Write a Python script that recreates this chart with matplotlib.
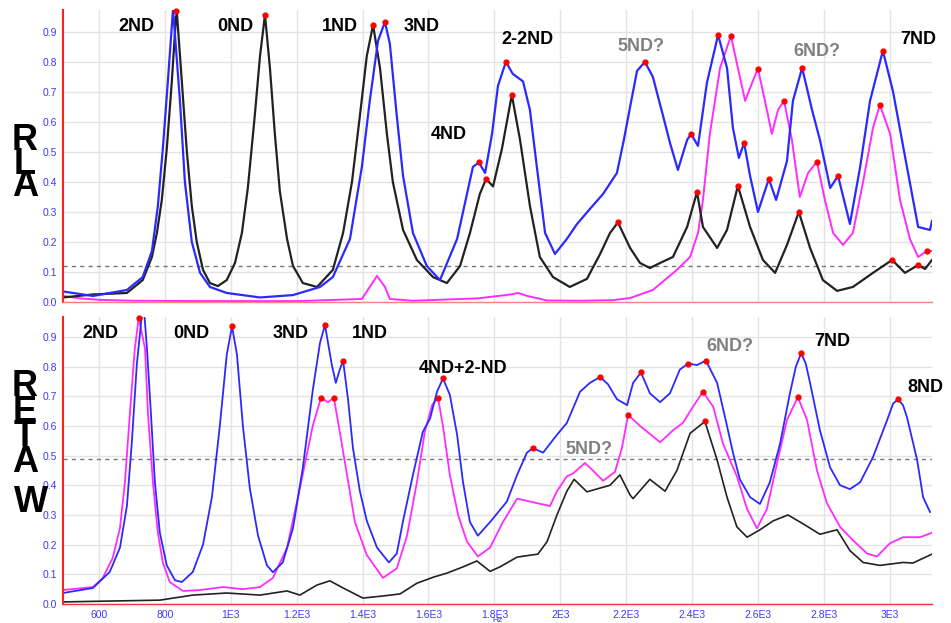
import matplotlib
matplotlib.use("Agg")
from matplotlib import pyplot as plt

# ---- top panel (RLA) ----
top_black_f = [491, 582, 685, 733, 761, 776, 791, 806, 821, 834, 837, 852, 867, 882, 897, 916, 937, 961,
               988, 1013, 1034, 1052, 1073, 1089, 1104, 1119, 1134, 1149, 1171, 1189, 1219, 1262, 1310,
               1341, 1368, 1392, 1413, 1432, 1453, 1474, 1492, 1523, 1565, 1614, 1656, 1696, 1726, 1756,
               1775, 1796, 1823, 1853, 1878, 1908, 1938, 1978, 2029, 2081, 2121, 2151, 2175, 2212, 2242,
               2272, 2303, 2342, 2385, 2415, 2433, 2476, 2506, 2539, 2576, 2615, 2652, 2688, 2724, 2758,
               2797, 2840, 2888, 2949, 3007, 3046, 3086, 3107, 3128]
top_black_v = [0.015, 0.025, 0.03, 0.073, 0.15, 0.23, 0.34, 0.51, 0.73, 0.95, 0.96, 0.73, 0.50, 0.32, 0.20,
               0.107, 0.063, 0.053, 0.073, 0.13, 0.23, 0.38, 0.62, 0.82, 0.957, 0.78, 0.56, 0.37, 0.21,
               0.12, 0.063, 0.05, 0.107, 0.23, 0.40, 0.62, 0.82, 0.923, 0.78, 0.56, 0.40, 0.24, 0.14,
               0.083, 0.063, 0.12, 0.23, 0.36, 0.41, 0.385, 0.51, 0.69, 0.54, 0.32, 0.15, 0.083, 0.05,
               0.077, 0.16, 0.23, 0.265, 0.18, 0.13, 0.113, 0.13, 0.15, 0.25, 0.366, 0.25, 0.18, 0.24,
               0.387, 0.25, 0.14, 0.097, 0.19, 0.30, 0.18, 0.073, 0.037, 0.05, 0.097, 0.14, 0.097, 0.123,
               0.11, 0.14]

top_blue_f = [491, 582, 685, 733, 761, 779, 794, 809, 825, 846, 861, 882, 907, 937, 988, 1089, 1189, 1271,
              1310, 1362, 1398, 1422, 1447, 1468, 1483, 1504, 1523, 1553, 1595, 1635, 1687, 1717, 1735,
              1753, 1772, 1793, 1811, 1835, 1856, 1887, 1908, 1929, 1954, 1984, 2020, 2051, 2090, 2130,
              2172, 2193, 2212, 2233, 2257, 2281, 2312, 2333, 2357, 2385, 2397, 2418, 2445, 2479, 2506,
              2524, 2542, 2558, 2576, 2600, 2633, 2655, 2688, 2706, 2734, 2764, 2788, 2819, 2843, 2879,
              2910, 2940, 2979, 3010, 3052, 3086, 3122, 3128]
top_blue_v = [0.035, 0.02, 0.04, 0.083, 0.17, 0.32, 0.51, 0.73, 0.975, 0.67, 0.40, 0.20, 0.097, 0.05,
              0.03, 0.015, 0.023, 0.05, 0.083, 0.21, 0.45, 0.67, 0.87, 0.933, 0.86, 0.62, 0.42, 0.23,
              0.12, 0.073, 0.21, 0.36, 0.45, 0.465, 0.43, 0.56, 0.72, 0.80, 0.76, 0.735, 0.64, 0.45, 0.23,
              0.16, 0.21, 0.26, 0.31, 0.36, 0.43, 0.54, 0.65, 0.77, 0.80, 0.75, 0.62, 0.53, 0.44, 0.54,
              0.56, 0.52, 0.73, 0.89, 0.78, 0.58, 0.48, 0.53, 0.42, 0.30, 0.41, 0.34, 0.47, 0.67, 0.78,
              0.64, 0.54, 0.38, 0.42, 0.26, 0.45, 0.67, 0.837, 0.70, 0.45, 0.25, 0.24, 0.27]

top_pink_f = [491, 542, 603, 703, 907, 1210, 1398, 1422, 1444, 1468, 1483, 1553, 1750, 1850, 1872, 1900,
              1960, 2060, 2160, 2212, 2281, 2354, 2394, 2418, 2433, 2454, 2485, 2518, 2539, 2561, 2582,
              2600, 2627, 2642, 2661, 2679, 2703, 2727, 2752, 2779, 2803, 2828, 2858, 2888, 2919, 2949,
              2970, 3001, 3031, 3061, 3086, 3113, 3128]
top_pink_v = [0.02, 0.012, 0.007, 0.004, 0.003, 0.003, 0.01, 0.05, 0.087, 0.05, 0.01, 0.004, 0.012,
              0.025, 0.03, 0.02, 0.005, 0.004, 0.006, 0.013, 0.04, 0.107, 0.15, 0.23, 0.34, 0.56, 0.78,
              0.887, 0.78, 0.67, 0.73, 0.777, 0.64, 0.56, 0.64, 0.67, 0.54, 0.35, 0.43, 0.467, 0.34, 0.23,
              0.19, 0.23, 0.40, 0.58, 0.657, 0.56, 0.34, 0.21, 0.15, 0.17, 0.17]

top_blue_pk_f = [834, 1468, 1753, 1835, 2257, 2397, 2479, 2558, 2633, 2734, 2843, 2979]
top_blue_pk_v = [0.97, 0.933, 0.465, 0.80, 0.80, 0.56, 0.89, 0.53, 0.41, 0.78, 0.42, 0.837]
top_black_pk_f = [1104, 1432, 1775, 1853, 2175, 2415, 2539, 2724, 3007, 3086]
top_black_pk_v = [0.957, 0.923, 0.41, 0.69, 0.265, 0.366, 0.387, 0.30, 0.14, 0.123]
top_pink_pk_f = [2518, 2600, 2679, 2779, 2970, 3113]
top_pink_pk_v = [0.887, 0.777, 0.67, 0.467, 0.657, 0.17]

top_labels = ["2ND", "0ND", "1ND", "3ND", "2-2ND", "4ND", "5ND?", "6ND?", "7ND"]
top_label_f = [715, 1013, 1331, 1580, 1899, 1662, 2245, 2779, 3086]
top_label_v = [0.917, 0.917, 0.917, 0.917, 0.873, 0.557, 0.85, 0.833, 0.873]
top_label_c = ["k", "k", "k", "k", "k", "k", "gray", "gray", "k"]

# ---- bottom panel (RETAW) ----
bot_blue_f = [491, 582, 633, 664, 685, 700, 715, 730, 737, 746, 758, 770, 785, 806, 831, 852, 885, 916,
              943, 967, 988, 1004, 1019, 1037, 1058, 1083, 1110, 1128, 1158, 1189, 1219, 1249, 1271, 1286,
              1307, 1319, 1331, 1341, 1356, 1371, 1392, 1413, 1444, 1480, 1504, 1523, 1553, 1583, 1605,
              1626, 1644, 1665, 1687, 1705, 1726, 1750, 1787, 1838, 1869, 1899, 1917, 1948, 1990, 2020,
              2060, 2090, 2121, 2145, 2172, 2203, 2221, 2245, 2272, 2303, 2333, 2363, 2388, 2415, 2442,
              2476, 2506, 2524, 2545, 2576, 2606, 2636, 2667, 2697, 2715, 2731, 2745, 2758, 2788, 2819,
              2849, 2879, 2910, 2949, 2992, 3010, 3025, 3040, 3052, 3083, 3101, 3122]
bot_blue_v = [0.037, 0.054, 0.108, 0.19, 0.33, 0.545, 0.805, 0.97, 0.99, 0.86, 0.64, 0.41, 0.24, 0.13,
              0.08, 0.074, 0.108, 0.20, 0.36, 0.60, 0.84, 0.935, 0.84, 0.60, 0.39, 0.23, 0.13, 0.107,
              0.14, 0.255, 0.46, 0.72, 0.88, 0.94, 0.805, 0.745, 0.79, 0.82, 0.69, 0.525, 0.38, 0.28,
              0.19, 0.14, 0.17, 0.28, 0.435, 0.58, 0.625, 0.715, 0.76, 0.705, 0.57, 0.41, 0.276, 0.23,
              0.276, 0.345, 0.435, 0.51, 0.525, 0.51, 0.57, 0.61, 0.715, 0.745, 0.765, 0.74, 0.69, 0.67,
              0.745, 0.78, 0.71, 0.68, 0.71, 0.79, 0.81, 0.805, 0.82, 0.745, 0.60, 0.51, 0.42, 0.36,
              0.337, 0.41, 0.54, 0.71, 0.80, 0.845, 0.81, 0.745, 0.585, 0.46, 0.40, 0.387, 0.41, 0.495,
              0.62, 0.675, 0.69, 0.67, 0.63, 0.485, 0.36, 0.31]

bot_pink_f = [491, 582, 612, 642, 664, 679, 694, 709, 721, 740, 749, 764, 779, 794, 815, 855, 907, 976,
              1037, 1089, 1128, 1171, 1210, 1249, 1274, 1295, 1313, 1331, 1353, 1377, 1413, 1462, 1504,
              1535, 1565, 1589, 1611, 1629, 1644, 1665, 1690, 1717, 1750, 1787, 1826, 1869, 1969, 1990,
              2020, 2039, 2075, 2099, 2130, 2166, 2187, 2206, 2242, 2303, 2342, 2372, 2403, 2433, 2464,
              2494, 2536, 2567, 2597, 2627, 2658, 2688, 2721, 2749, 2779, 2809, 2849, 2888, 2931, 2961,
              3001, 3040, 3092, 3128]
bot_pink_v = [0.047, 0.057, 0.088, 0.155, 0.256, 0.41, 0.64, 0.86, 0.965, 0.86, 0.64, 0.41, 0.24, 0.14,
              0.074, 0.044, 0.047, 0.057, 0.05, 0.057, 0.088, 0.19, 0.39, 0.60, 0.695, 0.68, 0.695, 0.58,
              0.435, 0.276, 0.165, 0.088, 0.12, 0.23, 0.41, 0.58, 0.67, 0.695, 0.60, 0.435, 0.30, 0.21,
              0.16, 0.19, 0.276, 0.355, 0.33, 0.38, 0.43, 0.44, 0.475, 0.45, 0.415, 0.445, 0.525, 0.637,
              0.60, 0.545, 0.585, 0.61, 0.665, 0.715, 0.665, 0.54, 0.43, 0.32, 0.255, 0.32, 0.475, 0.62,
              0.697, 0.62, 0.45, 0.34, 0.26, 0.215, 0.17, 0.16, 0.205, 0.225, 0.225, 0.24]

bot_black_f = [491, 785, 885, 988, 1089, 1171, 1210, 1262, 1301, 1341, 1401, 1462, 1514, 1565, 1614, 1656,
               1705, 1747, 1787, 1817, 1869, 1932, 1960, 1990, 2020, 2042, 2081, 2151, 2181, 2212, 2221,
               2272, 2318, 2354, 2394, 2439, 2476, 2506, 2536, 2567, 2606, 2646, 2691, 2737, 2788, 2840,
               2879, 2919, 2970, 3040, 3070, 3128]
bot_black_v = [0.007, 0.013, 0.03, 0.037, 0.03, 0.044, 0.03, 0.064, 0.078, 0.054, 0.02, 0.027, 0.034,
               0.07, 0.09, 0.104, 0.125, 0.145, 0.11, 0.125, 0.158, 0.168, 0.21, 0.30, 0.38, 0.42, 0.378,
               0.40, 0.435, 0.367, 0.355, 0.42, 0.38, 0.45, 0.575, 0.615, 0.485, 0.36, 0.26, 0.225, 0.25,
               0.28, 0.30, 0.27, 0.235, 0.25, 0.18, 0.14, 0.13, 0.14, 0.138, 0.168]

bot_blue_pk_f = [1004, 1286, 1341, 1644, 1917, 2121, 2245, 2388, 2442, 2731, 3025]
bot_blue_pk_v = [0.935, 0.94, 0.82, 0.76, 0.525, 0.765, 0.78, 0.81, 0.82, 0.845, 0.69]
bot_pink_pk_f = [721, 1274, 1313, 1629, 2206, 2433, 2721]
bot_pink_pk_v = [0.962, 0.695, 0.695, 0.695, 0.637, 0.715, 0.697]
bot_black_pk_f = [2439]
bot_black_pk_v = [0.615]

bot_labels = ["2ND", "0ND", "3ND", "1ND", "4ND+2-ND", "5ND?", "6ND?", "7ND", "8ND"]
bot_label_f = [606, 879, 1183, 1422, 1705, 2087, 2515, 2825, 3107]
bot_label_v = [0.913, 0.913, 0.913, 0.913, 0.795, 0.519, 0.866, 0.883, 0.731]
bot_label_c = ["k", "k", "k", "k", "k", "gray", "gray", "k", "k"]

x_ticks = [600, 800, 1000, 1200, 1400, 1600, 1800, 2000, 2200, 2400, 2600, 2800, 3000]
x_tick_labels = ["600", "800", "1E3", "1.2E3", "1.4E3", "1.6E3", "1.8E3", "2E3", "2.2E3",
                 "2.4E3", "2.6E3", "2.8E3", "3E3"]
y_ticks = [0.0, 0.1, 0.2, 0.3, 0.4, 0.5, 0.6, 0.7, 0.8, 0.9]

BLUE = "#2a2aff"
PINK = "#ff2cff"
BLACK = "#222222"
TICK_BLUE = "#3a3aff"

plt.rcParams["font.family"] = ["Liberation Sans", "DejaVu Sans"]

fig = plt.figure(figsize=(9.51, 6.23), dpi=100)
ax_top = fig.add_axes([0.0662, 0.5153, 0.9138, 0.4687])
ax_bot = fig.add_axes([0.0662, 0.0305, 0.9138, 0.4607])


def style(ax, ytop, show_x):
    ax.set_xlim(491, 3128)
    ax.set_ylim(0, ytop)
    ax.set_xticks(x_ticks)
    ax.set_yticks(y_ticks)
    ax.set_yticklabels(["%.1f" % v for v in y_ticks])
    if show_x:
        ax.set_xticklabels(x_tick_labels)
    else:
        ax.set_xticklabels([])
    ax.tick_params(length=0, labelsize=7.5, labelcolor=TICK_BLUE, pad=4)
    ax.grid(True, color="#e3e3e3", linewidth=1)
    ax.set_axisbelow(True)
    for s in ["top", "right"]:
        ax.spines[s].set_visible(False)
    ax.spines["left"].set_color("#ff2020")
    ax.spines["left"].set_linewidth(1.5)
    ax.spines["bottom"].set_color("#ff8080")
    ax.spines["bottom"].set_linewidth(1)


style(ax_top, 0.973, False)
style(ax_bot, 0.967, True)
ax_bot.spines["bottom"].set_color("#ff3030")
ax_bot.set_xlabel("Hz", fontsize=6, color=TICK_BLUE, labelpad=-2)

# top curves
ax_top.axhline(0.12, color="#777777", linestyle="--", linewidth=1, dashes=(3, 3))
ax_top.plot(top_pink_f, top_pink_v, color=PINK, linewidth=1.4)
ax_top.plot(top_black_f, top_black_v, color=BLACK, linewidth=1.6)
ax_top.plot(top_blue_f, top_blue_v, color=BLUE, linewidth=1.6)
for f, v in [(top_blue_pk_f, top_blue_pk_v), (top_black_pk_f, top_black_pk_v), (top_pink_pk_f, top_pink_pk_v)]:
    ax_top.plot(f, v, "o", color="red", markersize=3.5, zorder=5, clip_on=False)

# bottom curves
ax_bot.axhline(0.487, color="#777777", linestyle="--", linewidth=1, dashes=(3, 3))
ax_bot.plot(bot_black_f, bot_black_v, color=BLACK, linewidth=1.2)
ax_bot.plot(bot_pink_f, bot_pink_v, color=PINK, linewidth=1.3)
ax_bot.plot(bot_blue_f, bot_blue_v, color=BLUE, linewidth=1.3)
for f, v in [(bot_blue_pk_f, bot_blue_pk_v), (bot_pink_pk_f, bot_pink_pk_v), (bot_black_pk_f, bot_black_pk_v)]:
    ax_bot.plot(f, v, "o", color="red", markersize=3.5, zorder=5, clip_on=False)

# peak labels
for ax, labels, lf, lv, lc in [(ax_top, top_labels, top_label_f, top_label_v, top_label_c),
                               (ax_bot, bot_labels, bot_label_f, bot_label_v, bot_label_c)]:
    for t, f, v, c in zip(labels, lf, lv, lc):
        ax.text(f, v, t, color=c, fontsize=13, fontweight="bold", ha="center", va="center",
                clip_on=False, zorder=6)

# big stacked panel names
for ch, y in zip("RLA", [141, 164, 187]):
    fig.text(25 / 951, 1 - y / 623, ch, fontsize=26, fontweight="bold", ha="center", va="center")
for ch, x, y in zip("RETAW", [25, 25, 25, 25, 31], [387, 412, 437, 463, 503]):
    fig.text(x / 951, 1 - y / 623, ch, fontsize=26, fontweight="bold", ha="center", va="center")

fig.savefig("out.png", dpi=100)
